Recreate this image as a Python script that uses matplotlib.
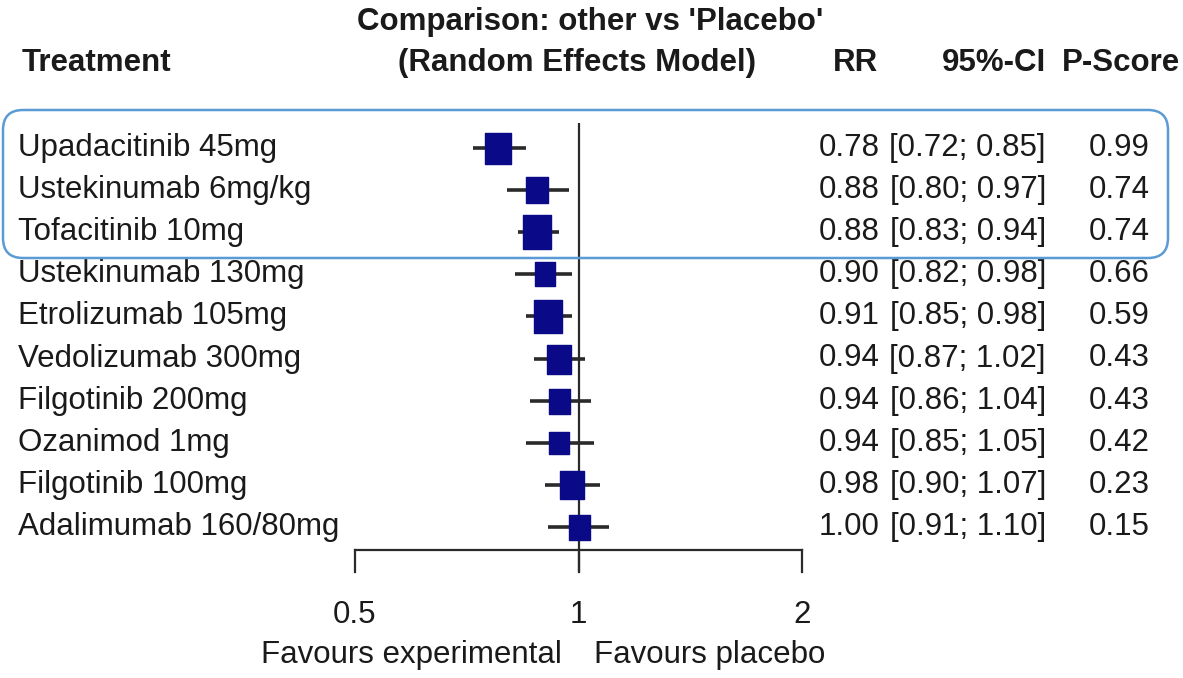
import matplotlib.pyplot as plt
from matplotlib.patches import FancyBboxPatch
from matplotlib.path import Path

# --- data ---
treatments = [
    "Upadacitinib 45mg", "Ustekinumab 6mg/kg", "Tofacitinib 10mg",
    "Ustekinumab 130mg", "Etrolizumab 105mg", "Vedolizumab 300mg",
    "Filgotinib 200mg", "Ozanimod 1mg", "Filgotinib 100mg",
    "Adalimumab 160/80mg",
]
rr = [0.78, 0.88, 0.88, 0.90, 0.91, 0.94, 0.94, 0.94, 0.98, 1.00]
ci_low = [0.72, 0.80, 0.83, 0.82, 0.85, 0.87, 0.86, 0.85, 0.90, 0.91]
ci_high = [0.85, 0.97, 0.94, 0.98, 0.98, 1.02, 1.04, 1.05, 1.07, 1.10]
p_score = [0.99, 0.74, 0.74, 0.66, 0.59, 0.43, 0.43, 0.42, 0.23, 0.15]
# square heights (pixels), proportional to study weight
square_px = [31, 26, 34, 24, 33, 29, 25, 23, 28, 25]
xticks = [0.5, 1, 2]
xtick_labels = ["0.5", "1", "2"]

W, H = 1183, 678
FONT, FS = "Liberation Sans", 22.5
navy = "#0A0A88"
line_col = "#2a2a2a"
text_col = "#1a1a1a"

# row layout (pixels from top)
row0, row_step = 148, 42.1


def row_of(py):
    return (py - row0) / row_step


fig = plt.figure(figsize=(W / 100, H / 100), dpi=100)
fig.patch.set_facecolor("white")

# background axes in pixel units for text
bg = fig.add_axes([0, 0, 1, 1], zorder=0)
bg.set_xlim(0, W)
bg.set_ylim(H, 0)
bg.axis("off")

# forest-plot axes: 0.5 at x=355 px, 2 at x=802 px
ax = fig.add_axes([355 / W, 0, (802 - 355) / W, 1], zorder=1)
ax.set_xscale("log", base=2)
ax.set_xlim(0.5, 2)
ax.set_ylim(row_of(H), row_of(0))
ax.patch.set_alpha(0)
ax.axis("off")

rows = list(range(len(treatments)))

# reference line at 1 and bottom axis
ax.plot([1, 1], [row_of(123), row_of(572)], color=line_col, lw=1.6,
        solid_capstyle="butt", clip_on=False)
ax.plot([xticks[0], xticks[-1]], [row_of(550)] * 2, color=line_col, lw=1.6,
        clip_on=False)
for t in xticks:
    ax.plot([t, t], [row_of(550), row_of(572)], color=line_col, lw=1.6,
            clip_on=False)
for t, lab in zip(xticks, xtick_labels):
    ax.text(t, row_of(615), lab, ha="center", va="center", fontsize=FS,
            family=FONT, color=text_col)

# rectangle marker, slightly taller than wide (as in the reference)
rect = Path([(-0.42, -0.5), (0.42, -0.5), (0.42, 0.5), (-0.42, 0.5),
             (-0.42, -0.5)], closed=True)

for r, est, lo, hi, sq in zip(rows, rr, ci_low, ci_high, square_px):
    ax.plot([lo, hi], [r, r], color=line_col, lw=2.6, solid_capstyle="butt",
            zorder=2)
    ax.plot([est], [r], marker=rect, markersize=sq * 0.72, color=navy,
            markeredgecolor=navy, zorder=3)

# headers
bold = dict(fontsize=FS, fontweight="bold", family=FONT, color=text_col,
            va="center")
bg.text(590, 22, "Comparison: other vs 'Placebo'", ha="center", **bold)
bg.text(577, 63, "(Random Effects Model)", ha="center", **bold)
bg.text(22, 63, "Treatment", ha="left", **bold)
bg.text(878, 63, "RR", ha="right", **bold)
bg.text(1046, 63, "95%-CI", ha="right", **bold)
bg.text(1180, 63, "P-Score", ha="right", **bold)

# row text
plain = dict(fontsize=FS, family=FONT, color=text_col, va="center")
for r, name, est, lo, hi, p in zip(rows, treatments, rr, ci_low, ci_high, p_score):
    y = row0 + r * row_step
    bg.text(18, y, name, ha="left", **plain)
    bg.text(880, y, f"{est:.2f}", ha="right", **plain)
    bg.text(1046, y, f"[{lo:.2f}; {hi:.2f}]", ha="right", **plain)
    bg.text(1150, y, f"{p:.2f}", ha="right", **plain)

bg.text(562, 655, "Favours experimental", ha="right", **plain)
bg.text(594, 655, "Favours placebo", ha="left", **plain)

# highlight box round the top three rows
box = FancyBboxPatch((3 / 100, (H - 258) / 100), 1165 / 100, 148 / 100,
                     boxstyle="round,pad=0,rounding_size=0.2",
                     transform=fig.dpi_scale_trans, fill=False,
                     edgecolor="#5B9BD5", linewidth=1.8, zorder=5)
fig.add_artist(box)

fig.savefig("out.png", dpi=100)
